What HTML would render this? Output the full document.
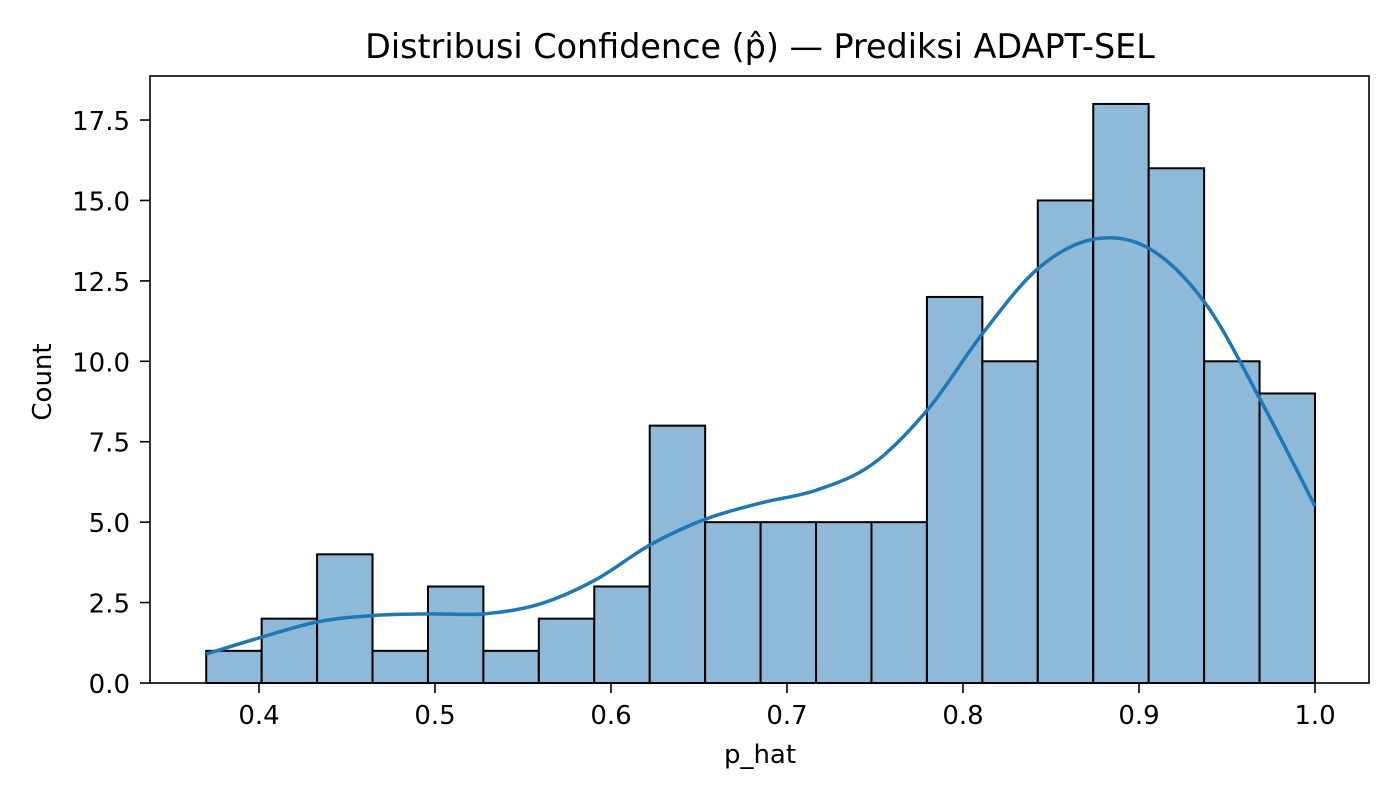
<!DOCTYPE html>
<html><head><meta charset="utf-8"><style>
body{margin:0;background:#fff;}
svg text{font-family:"DejaVu Sans","Liberation Sans",sans-serif;fill:#000;}
</style></head><body>
<svg id="chart" width="1400" height="800">
<text x="760" y="58" font-size="33.4" text-anchor="middle">Distribusi Confidence (p̂) — Prediksi ADAPT-SEL</text>
<g id="bars"></g><g id="kde"></g><g id="axes"></g>
<text x="760" y="763" font-size="26" text-anchor="middle">p_hat</text>
<text transform="translate(51,382) rotate(-90)" font-size="26" text-anchor="middle">Count</text>
</svg>
<script>
const binStart = 0.37;
const binEnd = 1.0;
const counts = [1,2,4,1,3,1,2,3,8,5,5,5,5,12,10,15,18,16,10,9];
const kdeX = [0.37,0.40,0.4332,0.465,0.4963,0.528,0.5593,0.591,0.6224,0.654,0.6855,0.717,0.7485,0.78,0.8116,0.843,0.8746,0.906,0.9377,0.969,1.0];
const kdeY = [0.9,1.4,1.9,2.1,2.15,2.15,2.45,3.2,4.3,5.1,5.6,6.0,6.8,8.5,10.9,12.9,13.8,13.5,11.8,8.8,5.5];
const xTicks = [0.4,0.5,0.6,0.7,0.8,0.9,1.0];
const yTicks = [0,2.5,5,7.5,10,12.5,15,17.5];
const ax={l:150,r:1369,t:76,b:683};
const X=v=>259+(v-0.4)*1760;
const Y=v=>683-v*32.17;
const NS="http://www.w3.org/2000/svg";
function mk(t,a,p){const e=document.createElementNS(NS,t);for(const k in a)e.setAttribute(k,a[k]);p.appendChild(e);return e;}
const bars=document.getElementById('bars');
const w=(binEnd-binStart)/counts.length;
counts.forEach((c,i)=>{
  const x0=X(binStart+i*w),x1=X(binStart+(i+1)*w);
  const r=mk('rect',{x:x0,y:Y(c),width:x1-x0,height:Y(0)-Y(c),fill:'#8fb9d9',stroke:'#000','stroke-width':2},bars);
  
  
});
const pts=kdeX.map((x,i)=>[X(x),Y(kdeY[i])]);
let d='M'+pts[0][0]+','+pts[0][1];
for(let i=0;i<pts.length-1;i++){
  const p0=pts[Math.max(0,i-1)],p1=pts[i],p2=pts[i+1],p3=pts[Math.min(pts.length-1,i+2)];
  d+=` C${p1[0]+(p2[0]-p0[0])/6},${p1[1]+(p2[1]-p0[1])/6} ${p2[0]-(p3[0]-p1[0])/6},${p2[1]-(p3[1]-p1[1])/6} ${p2[0]},${p2[1]}`;
}
const kl=mk('path',{d:d,fill:'none',stroke:'#1f77b4','stroke-width':3.5},document.getElementById('kde'));


const axes=document.getElementById('axes');
const fr=mk('rect',{x:ax.l,y:ax.t,width:ax.r-ax.l,height:ax.b-ax.t,fill:'none',stroke:'#000','stroke-width':1.6},axes);


xTicks.forEach(v=>{
  mk('line',{x1:X(v),x2:X(v),y1:ax.b,y2:ax.b+10,stroke:'#000','stroke-width':1.6},axes);
  const t=mk('text',{x:X(v),y:ax.b+41,'font-size':26,'text-anchor':'middle'},axes);
  t.textContent=v.toFixed(1);
  
  
});
yTicks.forEach(v=>{
  mk('line',{x1:ax.l-10,x2:ax.l,y1:Y(v),y2:Y(v),stroke:'#000','stroke-width':1.6},axes);
  const t=mk('text',{x:ax.l-20,y:Y(v)+10,'font-size':26,'text-anchor':'end'},axes);
  t.textContent=v.toFixed(1);
  
  
});
</script>
</body></html>
